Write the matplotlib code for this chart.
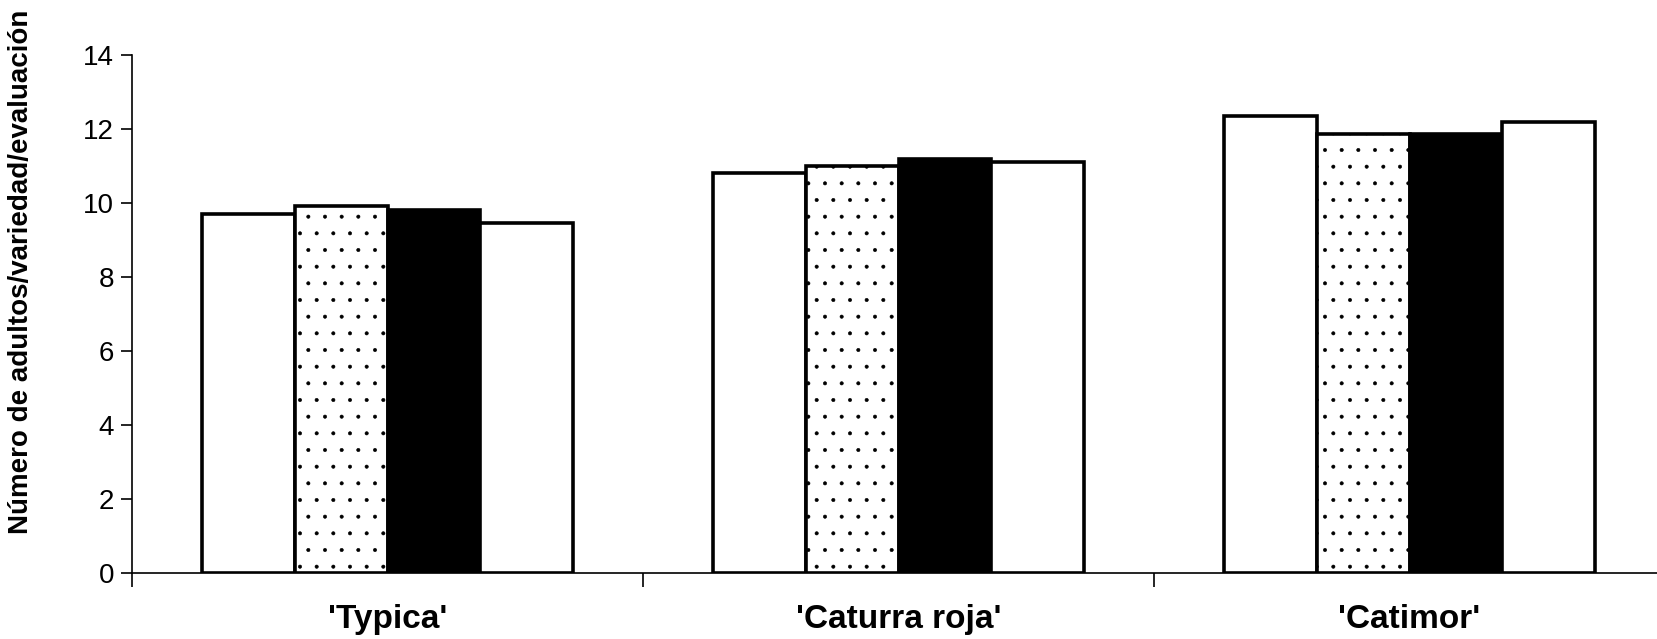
import matplotlib
matplotlib.use("Agg")
import matplotlib.pyplot as plt
import numpy as np

# Data
varieties = ["'Typica'", "'Caturra roja'", "'Catimor'"]
serie_1 = [9.70, 10.81, 12.35]
serie_2 = [9.92, 11.00, 11.86]
serie_3 = [9.81, 11.19, 11.86]
serie_4 = [9.46, 11.11, 12.19]
y_ticks = [0, 2, 4, 6, 8, 10, 12, 14]

plt.rcParams['font.family'] = ['Liberation Sans', 'DejaVu Sans']
plt.rcParams['hatch.linewidth'] = 0.4
plt.rcParams['hatch.color'] = '#a8a8a8'

fig = plt.figure(figsize=(16.57, 6.39), dpi=100)
ax = fig.add_axes([132 / 1657, 1 - 573 / 639, 1533 / 1657, (573 - 55) / 639])

centers = np.arange(len(varieties)) + 0.5
width = 0.1815
series = [serie_1, serie_2, serie_3, serie_4]
styles = [
    dict(facecolor='white', hatch=None),
    dict(facecolor='white', hatch='.'),
    dict(facecolor='black', hatch=None),
    dict(facecolor='white', hatch=None),
]
for i, (vals, st) in enumerate(zip(series, styles)):
    offs = (i - 1.5) * width
    ax.bar(centers + offs, vals, width=width, edgecolor='black',
           linewidth=2.6, zorder=3, **st)

ax.set_xlim(0, 3)
ax.set_ylim(0, 14)
ax.set_yticks(y_ticks)
ax.set_yticklabels([str(t) for t in y_ticks], fontsize=20)
ax.set_xticks([0, 1, 2, 3])
ax.set_xticklabels([])
ax.set_xticks(centers, minor=True)
ax.set_xticklabels(varieties, minor=True, fontsize=24, fontweight='bold')
ax.tick_params(axis='x', which='minor', length=0, pad=22)
ax.tick_params(axis='x', which='major', length=10, width=1.2, direction='out')
ax.tick_params(axis='y', length=8, width=1.2, direction='out', pad=5)

for side in ['top', 'right']:
    ax.spines[side].set_visible(False)
for side in ['left', 'bottom']:
    ax.spines[side].set_linewidth(1.2)

fig.text(21 / 1657, 1 - 272 / 639, 'Número de adultos/variedad/evaluación',
         rotation=90, ha='center', va='center', fontsize=20, fontweight='bold')

fig.savefig('out.png', dpi=100)
